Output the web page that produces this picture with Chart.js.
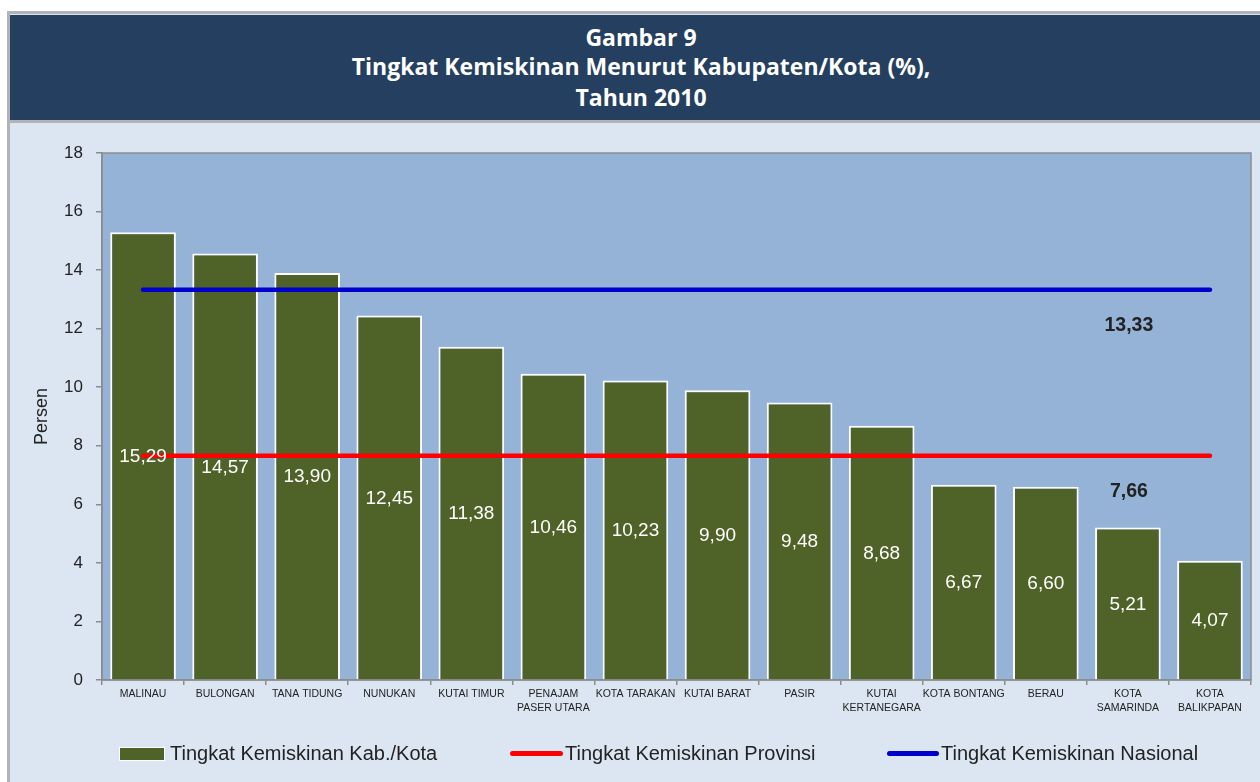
<!DOCTYPE html>
<html lang="id">
<head>
    <meta charset="UTF-8">
    <title>Tingkat Kemiskinan Menurut Kabupaten/Kota 2010</title>
    <script src="https://cdn.jsdelivr.net/npm/chart.js"></script>
    <style>
        body {
            margin: 0;
            width: 1260px;
            height: 782px;
            overflow: hidden;
            background: #FFFFFF;
            font-family: "Liberation Sans", Arial, sans-serif;
        }
        .frame {
            position: absolute;
            left: 7px;
            top: 11px;
            width: 1270px;
            height: 800px;
            border-left: 3px solid #B3B3B7;
            border-top: 3px solid #B3B3B7;
            background: #DCE6F2;
        }
        .banner {
            position: absolute;
            left: 0;
            top: 1px;
            width: 1262px;
            height: 105px;
            background: #243F60;
            border-bottom: 3px solid #B3B3B7;
            color: #FFFFFF;
            font-family: "Open Sans", "DejaVu Sans", sans-serif;
            font-weight: bold;
            font-size: 23px;
            line-height: 30px;
            text-align: center;
        }
        .banner div {
            position: absolute;
            left: 0;
            width: 100%;
        }
        .chartBox {
            position: absolute;
            left: 10px;
            top: 122px;
        }
        .legend {
            position: absolute;
            top: 742px;
            font-size: 20px;
            color: #222222;
            white-space: nowrap;
        }
        .legend span {
            position: absolute;
            top: 0;
            line-height: 22px;
        }
        .swatch {
            position: absolute;
        }
    </style>
</head>
<body>
    <div class="frame">
        <div class="banner">
            <div style="top: 7px;">Gambar 9</div>
            <div style="top: 36px;">Tingkat Kemiskinan Menurut Kabupaten/Kota (%),</div>
            <div style="top: 67px;">Tahun 2010</div>
        </div>
    </div>
    <div class="chartBox">
        <canvas id="povertyChart" width="1250" height="660"></canvas>
    </div>

    <!-- legenda dibuat manual supaya posisi sama dengan gambar asli -->
    <div class="legend" style="left:0;">
        <div class="swatch" style="left:119px; top:5px; width:44px; height:12px; background:#4F6228; border:1.5px solid #FFFFFF;"></div>
        <span style="left:170px;">Tingkat Kemiskinan Kab./Kota</span>
        <div class="swatch" style="left:510px; top:9px; width:53px; height:5px; background:#FF0000; border-radius:3px;"></div>
        <span style="left:565px;">Tingkat Kemiskinan Provinsi</span>
        <div class="swatch" style="left:887px; top:9px; width:52px; height:5px; background:#0000CC; border-radius:3px;"></div>
        <span style="left:941px;">Tingkat Kemiskinan Nasional</span>
    </div>

    <script>
        // data kabupaten/kota
        const regions = [
            'MALINAU', 'BULONGAN', 'TANA TIDUNG', 'NUNUKAN', 'KUTAI TIMUR',
            ['PENAJAM', 'PASER UTARA'], 'KOTA TARAKAN', 'KUTAI BARAT', 'PASIR',
            ['KUTAI', 'KERTANEGARA'], 'KOTA BONTANG', 'BERAU',
            ['KOTA', 'SAMARINDA'], ['KOTA', 'BALIKPAPAN']
        ];
        const regionRates = [15.29, 14.57, 13.90, 12.45, 11.38, 10.46, 10.23, 9.90, 9.48, 8.68, 6.67, 6.60, 5.21, 4.07];
        const provinceRates = [7.66, 7.66, 7.66, 7.66, 7.66, 7.66, 7.66, 7.66, 7.66, 7.66, 7.66, 7.66, 7.66, 7.66];
        const nationalRates = [13.33, 13.33, 13.33, 13.33, 13.33, 13.33, 13.33, 13.33, 13.33, 13.33, 13.33, 13.33, 13.33, 13.33];
        const yTicks = [0, 2, 4, 6, 8, 10, 12, 14, 16, 18];

        const fmt = v => v.toFixed(2).replace('.', ',');

        // latar area plot biru + garis tepi
        const plotBg = {
            id: 'plotBg',
            beforeDraw(chart) {
                const { ctx, chartArea: a } = chart;
                ctx.save();
                ctx.fillStyle = '#95B3D7';
                ctx.fillRect(a.left, a.top, a.right - a.left, a.bottom - a.top);
                ctx.strokeStyle = '#8C8C8C';
                ctx.lineWidth = 1.5;
                ctx.strokeRect(a.left, a.top, a.right - a.left, a.bottom - a.top);
                ctx.restore();
            }
        };

        // label angka di tengah batang + label garis provinsi/nasional
        const valueLabels = {
            id: 'valueLabels',
            afterDatasetsDraw(chart) {
                const ctx = chart.ctx;
                ctx.save();
                ctx.textAlign = 'center';
                ctx.textBaseline = 'middle';

                const bars = chart.getDatasetMeta(0).data;
                ctx.font = '19px "Liberation Sans", Arial, sans-serif';
                ctx.fillStyle = '#FFFFFF';
                bars.forEach((bar, i) => {
                    ctx.fillText(fmt(regionRates[i]), bar.x, (bar.y + bar.base) / 2 + 1);
                });

                ctx.font = 'bold 19.5px "Liberation Sans", Arial, sans-serif';
                ctx.fillStyle = '#222222';
                [[1, nationalRates], [2, provinceRates]].forEach(([idx, arr]) => {
                    const pt = chart.getDatasetMeta(idx).data[12];
                    ctx.fillText(fmt(arr[12]), pt.x + 1, pt.y + 36);
                });
                ctx.restore();
            }
        };

        const ctx = document.getElementById('povertyChart').getContext('2d');
        new Chart(ctx, {
            type: 'bar',
            data: {
                labels: regions,
                datasets: [
                    {
                        label: 'Tingkat Kemiskinan Kab./Kota',
                        data: regionRates,
                        backgroundColor: '#4F6228',
                        borderColor: '#FFFFFF',
                        borderWidth: 2,
                        categoryPercentage: 0.8,
                        barPercentage: 1,
                        order: 2
                    },
                    {
                        type: 'line',
                        label: 'Tingkat Kemiskinan Nasional',
                        data: nationalRates,
                        borderColor: '#0000CC',
                        borderWidth: 4.5,
                        borderCapStyle: 'round',
                        pointRadius: 0,
                        order: 1
                    },
                    {
                        type: 'line',
                        label: 'Tingkat Kemiskinan Provinsi',
                        data: provinceRates,
                        borderColor: '#FF0000',
                        borderWidth: 4.5,
                        borderCapStyle: 'round',
                        pointRadius: 0,
                        order: 0
                    }
                ]
            },
            options: {
                responsive: false,
                devicePixelRatio: 1,
                animation: false,
                layout: { padding: { top: 31, right: 9, left: 0, bottom: 0 } },
                plugins: {
                    legend: { display: false },
                    tooltip: { enabled: false }
                },
                scales: {
                    x: {
                        afterFit(scale) { scale.height = 102; },
                        grid: {
                            drawOnChartArea: false,
                            tickLength: 5,
                            color: '#8C8C8C',
                            lineWidth: 1.5
                        },
                        border: { color: '#8C8C8C', width: 1.5 },
                        ticks: {
                            autoSkip: false,
                            maxRotation: 0,
                            padding: 2,
                            color: '#222222',
                            font: { family: '"Liberation Sans", Arial, sans-serif', size: 10.5, lineHeight: 1.35 }
                        }
                    },
                    y: {
                        min: 0,
                        max: 18,
                        afterFit(scale) { scale.width = 92; },
                        afterBuildTicks(scale) { scale.ticks = yTicks.map(v => ({ value: v })); },
                        grid: {
                            drawOnChartArea: false,
                            tickLength: 6,
                            color: '#8C8C8C',
                            lineWidth: 1.5
                        },
                        border: { color: '#8C8C8C', width: 1.5 },
                        ticks: {
                            padding: 13,
                            color: '#222222',
                            font: { family: '"Liberation Sans", Arial, sans-serif', size: 17 }
                        },
                        title: {
                            display: true,
                            text: 'Persen',
                            color: '#222222',
                            padding: { top: 21, bottom: 0 },
                            font: { family: '"Liberation Sans", Arial, sans-serif', size: 18 }
                        }
                    }
                }
            },
            plugins: [plotBg, valueLabels]
        });
    </script>
</body>
</html>
